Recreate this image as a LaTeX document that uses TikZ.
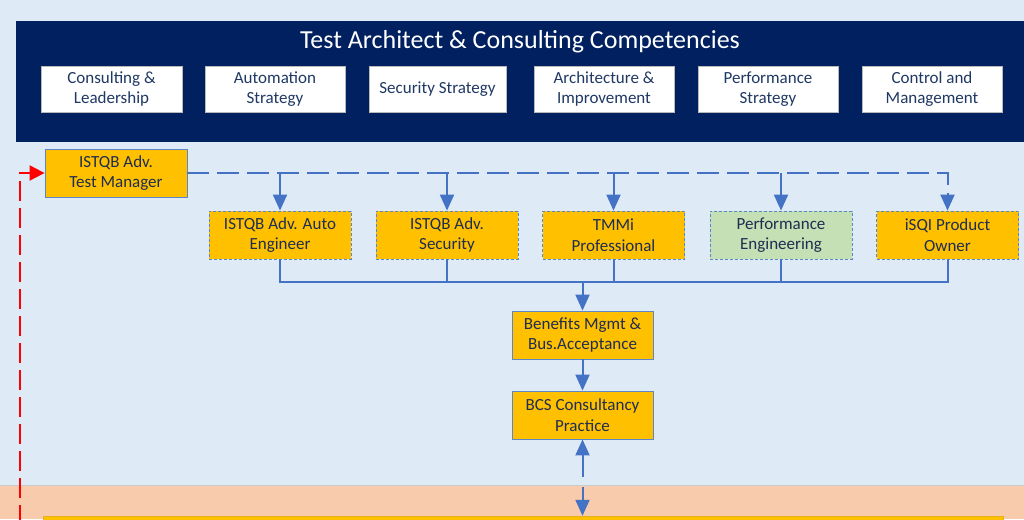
\documentclass[tikz,border=0pt]{standalone}
\usepackage{fontspec}
\setmainfont{Carlito}
\usetikzlibrary{arrows.meta}
\definecolor{bgblue}{HTML}{DEEBF7}
\definecolor{navy}{HTML}{002060}
\definecolor{navytext}{HTML}{1F3864}
\definecolor{boxtext}{HTML}{1F2D50}
\definecolor{orangefill}{HTML}{FFC000}
\definecolor{greenfill}{HTML}{C5E0B4}
\definecolor{lineblue}{HTML}{4472C4}
\definecolor{borderblue}{HTML}{5B86C8}
\definecolor{bandorange}{HTML}{F8CBAD}
\definecolor{redline}{HTML}{FF0000}
\tikzset{
  topbox/.style={draw=gray!55, fill=white, minimum width=140pt, minimum height=46pt, inner sep=1pt, align=center, text=navytext, font=\fontsize{17}{20.5}\selectfont},
  solidbox/.style={draw=borderblue, line width=0.8pt, fill=orangefill, minimum width=142pt, minimum height=48pt, inner sep=1pt, align=center, text=boxtext, font=\fontsize{17}{20.5}\selectfont},
  dashbox/.style={solidbox, dash pattern=on 3pt off 2pt},
  conn/.style={draw=lineblue, line width=2pt},
  dconn/.style={conn, dash pattern=on 22pt off 8pt},
  tip/.style={-{Triangle[length=16pt,width=14pt]}},
  redconn/.style={draw=redline, line width=2pt, dash pattern=on 20pt off 7pt, -{Triangle[length=15pt,width=15pt]}}
}
\begin{document}
\begin{tikzpicture}[x=1pt,y=-1pt]
\clip (0,0) rectangle (1024,519);
\fill[bgblue] (0,0) rectangle (1024,519);
% bottom band
\fill[bandorange] (0,485) rectangle (1024,519);
\draw[gray!40, line width=1pt] (0,485) -- (1024,485);
% navy band
\fill[navy] (16,21) rectangle (1030,142);
\node[text=white, font=\fontsize{26}{30}\selectfont] (title) at (520,42) {Test Architect \& Consulting Competencies};
\node[topbox, minimum width=141pt] (c1) at (111.5,89) {Consulting \&\\Leadership};
\node[topbox] (c2) at (275,89) {Automation\\Strategy};
\node[topbox, minimum width=137pt] (c3) at (437.5,89) {Security Strategy};
\node[topbox] (c4) at (604,89) {Architecture \&\\Improvement};
\node[topbox] (c5) at (768,89) {Performance\\Strategy};
\node[topbox] (c6) at (932,89) {Control and\\Management};
% nodes
\node[solidbox] (tm) at (116,173) {ISTQB Adv.\\Test Manager};
\node[dashbox] (auto) at (280,235) {ISTQB Adv. Auto\\Engineer};
\node[dashbox] (sec) at (447,235) {ISTQB Adv.\\Security};
\node[dashbox] (tmmi) at (613.5,235) {TMMi\\Professional};
\node[dashbox, fill=greenfill] (perf) at (781,235) {Performance\\Engineering};
\node[dashbox] (po) at (947.5,235) {iSQI Product\\Owner};
\node[solidbox, minimum width=141pt] (ben) at (582.5,335) {Benefits Mgmt \&\\Bus.Acceptance};
\node[solidbox, minimum width=141pt] (bcs) at (582.5,415) {BCS Consultancy\\Practice};
\node[draw=orangefill!80!gray, fill=orangefill, minimum width=960pt, minimum height=28pt, inner sep=0pt] (bottom) at (523,530) {};
% dashed distribution from test manager
\draw[dconn, tip] (tm.east) -- (tm.east -| po.north) -- (po.north);
\draw[dconn, tip] (tm.east -| auto.north) -- (auto.north);
\draw[conn, tip] (tm.east -| sec.north) -- (sec.north);
\draw[dconn, tip] (tm.east -| tmmi.north) -- (tmmi.north);
\draw[dconn, tip] (tm.east -| perf.north) -- (perf.north);
% bus
\coordinate (bus) at (582.5,282);
\draw[conn] (auto.south) |- (bus);
\draw[conn] (po.south) |- (bus);
\draw[conn] (sec.south) -- (sec.south |- bus);
\draw[conn] (tmmi.south) -- (tmmi.south |- bus);
\draw[conn] (perf.south) -- (perf.south |- bus);
\draw[conn, tip] (bus) -- (ben.north);
\draw[conn, tip] (ben.south) -- (bcs.north);
% link to bottom
\coordinate (gapA) at (582.5,477);
\coordinate (gapB) at (582.5,487);
\draw[conn, tip] (gapA) -- (bcs.south);
\draw[conn, tip] (gapB) -- (gapB |- bottom.north);
% red feedback
\coordinate (redstart) at (20,525);
\draw[redconn] (redstart) |- (tm.west);
\end{tikzpicture}
\end{document}
